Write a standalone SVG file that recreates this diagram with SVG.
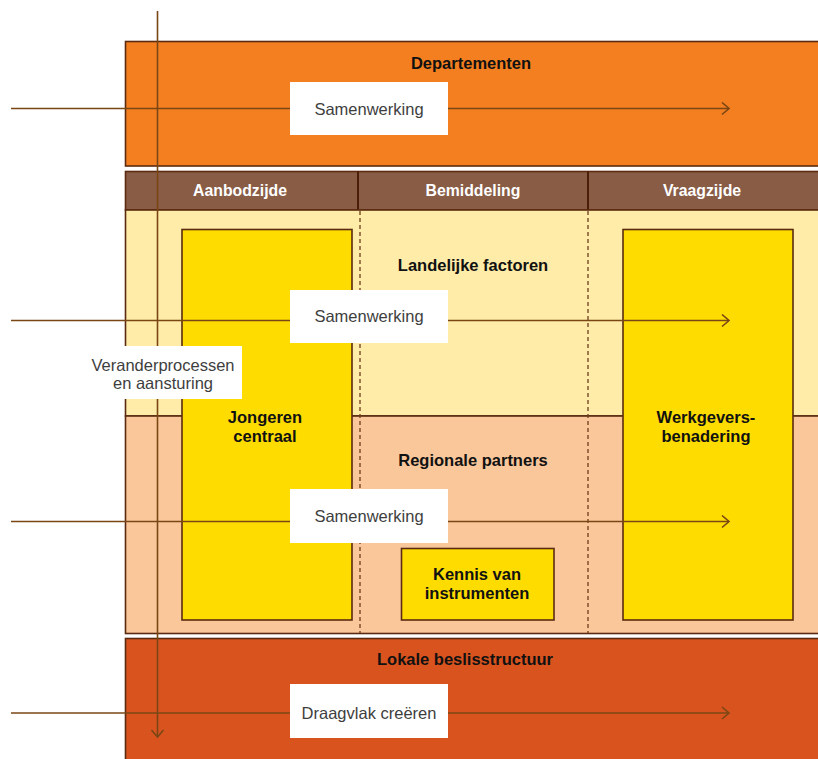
<svg xmlns="http://www.w3.org/2000/svg" width="818" height="759" viewBox="0 0 818 759">
<defs>
<style>
.bd{stroke:#5a2b10;stroke-width:1.6}
.dash{stroke:#6e3d1c;stroke-width:1.3;stroke-dasharray:4 3;fill:none}
.conn{stroke:#7a4714;stroke-width:1.6;fill:none}
.lbl{fill:#ffffff}
.reg{font-family:"Liberation Sans",Arial,sans-serif;font-size:16.5px;fill:#3e3e3e;text-anchor:middle}
.bold{font-family:"Liberation Sans",Arial,sans-serif;font-size:16.5px;font-weight:bold;fill:#111111;text-anchor:middle}
.hdr{font-family:"Liberation Sans",Arial,sans-serif;font-size:15.8px;font-weight:bold;fill:#ffffff;text-anchor:middle}
.yel{fill:#ffdc00}
</style>
<marker id="arr" viewBox="0 0 10 14" refX="8" refY="7" markerWidth="10" markerHeight="14" markerUnits="userSpaceOnUse" orient="auto">
<path d="M1,1 L8,7 L1,13" fill="none" stroke="#7a4714" stroke-width="1.6"/>
</marker>
</defs>
<rect width="818" height="759" fill="#ffffff"/>

<g id="departementen">
<rect class="bd" x="125.5" y="41.5" width="720" height="124.5" fill="#f47f20"/>
<text class="bold" x="471" y="69">Departementen</text>
</g>

<g id="header">
<rect class="bd" x="125.5" y="171.5" width="720" height="38.5" fill="#885c45"/>
<line x1="358" y1="171.5" x2="358" y2="210" stroke="#4a1e08" stroke-width="2"/>
<line x1="588" y1="171.5" x2="588" y2="210" stroke="#4a1e08" stroke-width="2"/>
<text class="hdr" x="240" y="196">Aanbodzijde</text>
<text class="hdr" x="473" y="196">Bemiddeling</text>
<text class="hdr" x="702" y="196">Vraagzijde</text>
</g>

<g id="landelijke-factoren">
<rect class="bd" x="125.5" y="210" width="720" height="206" fill="#feeca8"/>
<text class="bold" x="473" y="271">Landelijke factoren</text>
</g>

<g id="regionale-partners">
<rect class="bd" x="125.5" y="416" width="720" height="217.5" fill="#fac79b"/>
<text class="bold" x="473" y="466">Regionale partners</text>
</g>

<g id="kolomscheiding">
<line class="dash" x1="360" y1="211" x2="360" y2="633"/>
<line class="dash" x1="588" y1="211" x2="588" y2="633"/>
</g>

<g id="jongeren-centraal">
<rect class="bd yel" x="182" y="229.5" width="170" height="390.5"/>
<text class="bold" x="265" y="423">Jongeren</text>
<text class="bold" x="265" y="442">centraal</text>
</g>

<g id="werkgeversbenadering">
<rect class="bd yel" x="623" y="229.5" width="170" height="390.5"/>
<text class="bold" x="706" y="423">Werkgevers-</text>
<text class="bold" x="706" y="442">benadering</text>
</g>

<g id="kennis-van-instrumenten">
<rect class="bd yel" x="401.5" y="548.5" width="152.5" height="71.5"/>
<text class="bold" x="477" y="580">Kennis van</text>
<text class="bold" x="477" y="599">instrumenten</text>
</g>

<g id="lokale-beslisstructuur">
<rect class="bd" x="125.5" y="638.5" width="720" height="150" fill="#d9531f"/>
<text class="bold" x="465" y="665">Lokale beslisstructuur</text>
</g>

<g id="connectors">
<line class="conn" x1="157.5" y1="11" x2="157.5" y2="737" marker-end="url(#arr)"/>
<line class="conn" x1="11" y1="108.5" x2="729" y2="108.5" marker-end="url(#arr)"/>
<line class="conn" x1="11" y1="320.5" x2="729" y2="320.5" marker-end="url(#arr)"/>
<line class="conn" x1="11" y1="521.5" x2="729" y2="521.5" marker-end="url(#arr)"/>
<line class="conn" x1="11" y1="713" x2="729" y2="713" marker-end="url(#arr)"/>
</g>

<g id="label-samenwerking-1">
<rect class="lbl" x="290" y="82" width="158" height="53"/>
<text class="reg" x="369" y="114.5">Samenwerking</text>
</g>
<g id="label-samenwerking-2">
<rect class="lbl" x="290" y="290" width="158" height="53"/>
<text class="reg" x="369" y="322">Samenwerking</text>
</g>
<g id="label-samenwerking-3">
<rect class="lbl" x="290" y="489" width="158" height="54"/>
<text class="reg" x="369" y="521.5">Samenwerking</text>
</g>
<g id="label-draagvlak">
<rect class="lbl" x="290" y="684" width="158" height="54"/>
<text class="reg" x="369" y="719">Draagvlak creëren</text>
</g>
<g id="label-veranderprocessen">
<rect class="lbl" x="84" y="346" width="158" height="53"/>
<text class="reg" x="163" y="371">Veranderprocessen</text>
<text class="reg" x="163" y="388.5">en aansturing</text>
</g>
</svg>
